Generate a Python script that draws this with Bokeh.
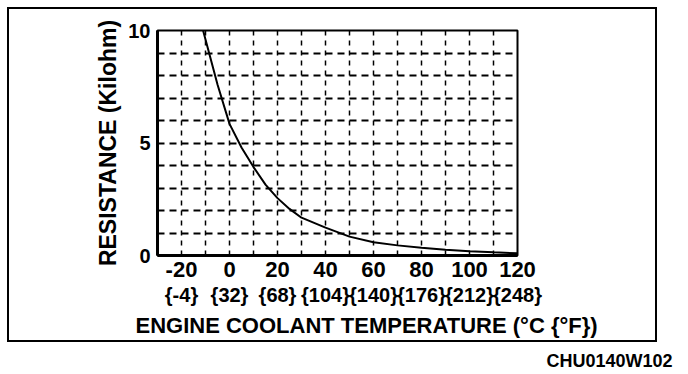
from bokeh.plotting import figure
from bokeh.layouts import column
from bokeh.models import FixedTicker, LinearAxis, Range1d, Title
from bokeh.embed import file_html
from bokeh.resources import INLINE

# ---- data ----
temp_c = [-11, -10, -5, 0, 5, 10, 15, 20, 25, 30, 40, 50, 60, 70, 80, 90, 100, 110, 120]
resistance_kohm = [10.0, 9.6, 7.6, 5.85, 4.8, 3.93, 3.15, 2.55, 2.07, 1.68, 1.24, 0.84,
                   0.59, 0.45, 0.34, 0.26, 0.19, 0.14, 0.10]

celsius_ticks = [-20, 0, 20, 40, 60, 80, 100, 120]
celsius_labels = ["-20", "0", "20", "40", "60", "80", "100", "120"]
fahrenheit_labels = ["{-4}", "{32}", "{68}", "{104}", "{140}", "{176}", "{212}", "{248}"]
y_ticks = [0, 5, 10]
figure_code = "CHU0140W102"

FONT = "Liberation Sans"

# ---- layout (pixels inside the boxed figure; the box border sits outside) ----
W, H = 650, 335
FL, FR, FT, FB = 148, 508, 21, 246

p = figure(width=W, height=H, x_range=Range1d(-30, 120), y_range=Range1d(0, 10),
           output_backend="svg", toolbar_location=None,
           min_border_left=FL, min_border_right=W - FR,
           min_border_top=FT, min_border_bottom=H - FB)
p.margin = (7, 0, 0, 7)
p.styles = {"border": "2px solid black"}
p.background_fill_color = "white"
p.border_fill_color = "white"
p.outline_line_color = "black"
p.outline_line_width = 2

# grid
p.xgrid.ticker = FixedTicker(ticks=list(range(-30, 121, 10)))
p.ygrid.ticker = FixedTicker(ticks=list(range(0, 11)))
p.xgrid.grid_line_color = "black"
p.xgrid.grid_line_dash = "5 5"
p.xgrid.grid_line_width = 1.5
p.ygrid.grid_line_color = "black"
p.ygrid.grid_line_dash = "7 5"
p.ygrid.grid_line_width = 1.8

# curve
p.line(temp_c, resistance_kohm, line_color="black", line_width=2)

# axes
for ax in (p.xaxis[0], p.yaxis[0]):
    ax.axis_line_width = 3
    ax.axis_line_color = "black"
    ax.major_tick_in = 0
    ax.major_tick_out = 0
    ax.minor_tick_in = 0
    ax.minor_tick_out = 0
    ax.major_label_text_font = FONT
    ax.major_label_text_font_style = "bold"
    ax.major_label_text_color = "black"

p.xaxis[0].ticker = FixedTicker(ticks=celsius_ticks)
p.xaxis[0].major_label_overrides = dict(zip(celsius_ticks, celsius_labels))
p.xaxis[0].major_label_text_font_size = "22px"
p.xaxis[0].major_label_standoff = 6

p.yaxis[0].ticker = FixedTicker(ticks=y_ticks)
p.yaxis[0].major_label_text_font_size = "20px"
p.yaxis[0].major_label_standoff = 7
p.yaxis[0].axis_label = "RESISTANCE (Kilohm)"
p.yaxis[0].axis_label_text_font = FONT
p.yaxis[0].axis_label_text_font_style = "bold"
p.yaxis[0].axis_label_text_font_size = "23px"
p.yaxis[0].axis_label_text_color = "black"
p.yaxis[0].axis_label_standoff = 4

ax_f = LinearAxis(ticker=FixedTicker(ticks=celsius_ticks),
                  major_label_overrides=dict(zip(celsius_ticks, fahrenheit_labels)),
                  axis_line_color=None, major_tick_line_color=None, minor_tick_line_color=None,
                  major_tick_in=0, major_tick_out=0, minor_tick_in=0, minor_tick_out=0,
                  major_label_standoff=4, major_label_text_font=FONT,
                  major_label_text_font_style="bold", major_label_text_font_size="20px",
                  major_label_text_color="black")
p.add_layout(ax_f, "below")

p.add_layout(Title(text="ENGINE COOLANT TEMPERATURE (°C {°F})", align="left", offset=-22,
                   standoff=5, text_font=FONT, text_font_style="bold",
                   text_font_size="22px", text_color="black"), "below")

# figure code line under the box; the column aligns this strip's borders with the
# main figure's, so the caption is offset from that frame's right edge
STRIP_W = 688
p2 = figure(width=STRIP_W, height=28, output_backend="svg", toolbar_location=None,
            x_axis_location=None, y_axis_location=None,
            min_border_left=FL, min_border_right=W - FR, min_border_top=0, min_border_bottom=3)
p2.grid.visible = False
p2.outline_line_color = None
p2.border_fill_color = "white"
p2.add_layout(Title(text=figure_code, align="right", offset=(STRIP_W - (W - FR)) - 672,
                    standoff=0, text_font=FONT, text_font_style="bold",
                    text_font_size="18px", text_color="black"), "below")

layout = column(p, p2, spacing=0)
open("out.html", "w").write(file_html(layout, INLINE))
